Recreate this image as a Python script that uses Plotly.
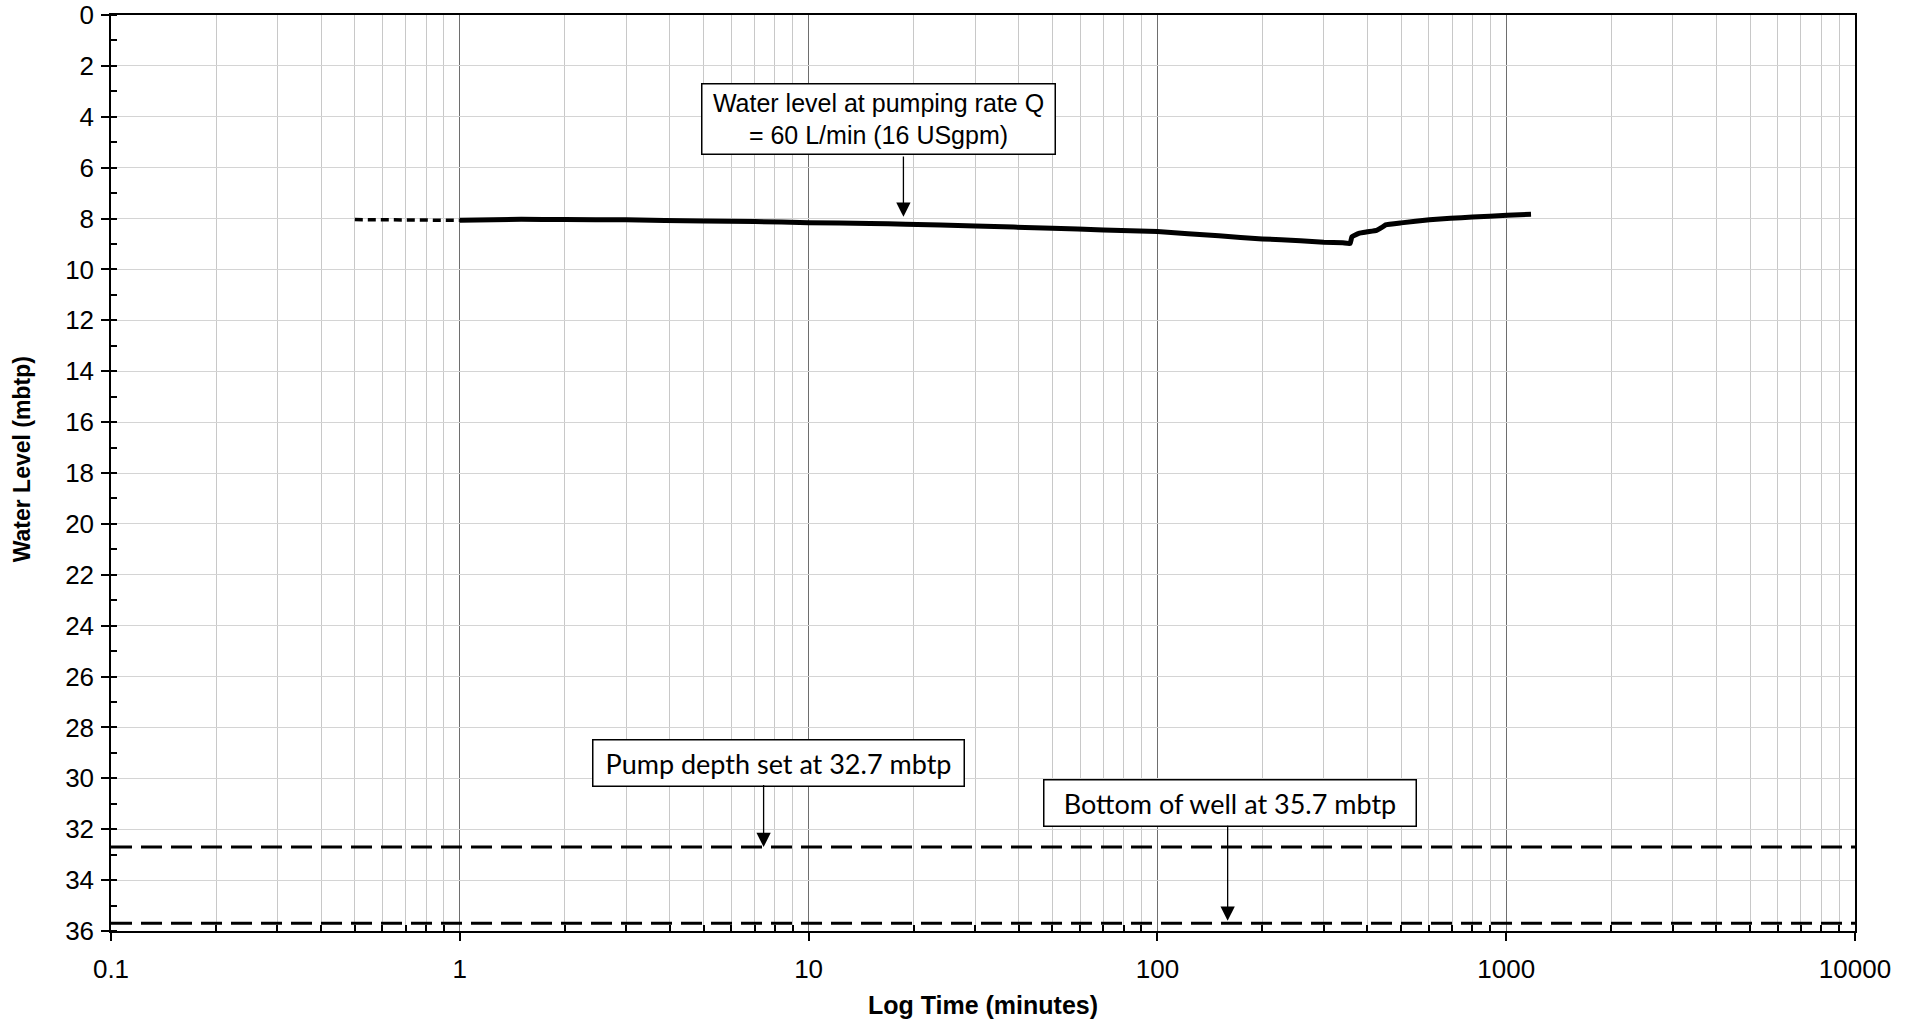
import numpy as np
import plotly.graph_objects as go

# ---- data ----
early_time = [0.5, 1.0]
early_level = [8.04, 8.07]

time_min = [1.0, 1.5, 2.0, 3.0, 5.0, 7.0, 10, 15, 19, 30, 50, 70, 100, 150, 200, 257, 300,
            340, 357, 361, 378, 400, 425, 440, 451, 500, 603, 692, 800, 1006, 1178]
level_m = [8.07, 8.03, 8.04, 8.05, 8.10, 8.12, 8.16, 8.19, 8.22, 8.29, 8.38, 8.45, 8.51, 8.68,
           8.80, 8.87, 8.93, 8.95, 8.98, 8.72, 8.58, 8.52, 8.46, 8.35, 8.25, 8.17, 8.05, 7.99,
           7.94, 7.87, 7.83]

pump_depth = 32.7
well_bottom = 35.7
x_span = [0.1, 10000]

x_tick_vals = [0.1, 1, 10, 100, 1000, 10000]
x_tick_text = ["0.1", "1", "10", "100", "1000", "10000"]
x_minor_vals = [m * d for d in [0.1, 1, 10, 100, 1000] for m in range(2, 10)]
y_tick_vals = list(range(0, 37, 2))

# annotation anchors (time in minutes, level in mbtp)
ann_wl = dict(box_t=15.9, box_l=4.09, tip_t=18.7, tip_l=7.93, tail_l=5.5,
              text="Water level at pumping rate Q<br>= 60 L/min (16 USgpm)")
ann_pump = dict(box_t=8.18, box_l=29.38, tip_t=7.43, tip_l=32.7, tail_l=30.2,
                text="Pump depth set at 32.7 mbtp")
ann_well = dict(box_t=161.7, box_l=30.96, tip_t=159.0, tip_l=35.6, tail_l=31.8,
                text="Bottom of well at 35.7 mbtp")

fig = go.Figure()
fig.add_trace(go.Scatter(x=early_time, y=early_level, mode="lines",
                         line=dict(color="black", width=3.5, dash="8px,5px"),
                         showlegend=False, hoverinfo="skip"))
fig.add_trace(go.Scatter(x=time_min, y=level_m, mode="lines",
                         line=dict(color="black", width=5, shape="spline", smoothing=0.3),
                         showlegend=False))
for lv in [pump_depth, well_bottom]:
    fig.add_trace(go.Scatter(x=x_span, y=[lv, lv], mode="lines",
                             line=dict(color="black", width=3, dash="21px,9px"),
                             showlegend=False, hoverinfo="skip"))

annotations = []
for a, fnt, w, h in [(ann_wl, dict(family="Arial, Liberation Sans", size=25, color="black"), 348, 65),
                     (ann_pump, dict(family="Lato", size=27, color="black"), 366, 41),
                     (ann_well, dict(family="Lato", size=27, color="black"), 367, 41)]:
    annotations.append(dict(
        x=np.log10(a["box_t"]), y=a["box_l"], xref="x", yref="y",
        text=a["text"], showarrow=False, font=fnt, align="center",
        bgcolor="white", bordercolor="black", borderwidth=1.5, borderpad=2,
        width=w, height=h, xanchor="center", yanchor="middle"))
    annotations.append(dict(
        x=np.log10(a["tip_t"]), y=a["tip_l"], xref="x", yref="y",
        ax=np.log10(a["tip_t"]), ay=a["tail_l"], axref="x", ayref="y",
        text="", showarrow=True, arrowhead=2, arrowsize=2.2, arrowwidth=1.3,
        arrowcolor="black"))

# y-axis title (placed as a rotated annotation to match its offset)
annotations.append(dict(
    text="<b>Water Level (mbtp)</b>", textangle=-90, showarrow=False,
    xref="paper", yref="paper", x=-0.051, y=0.515, xanchor="center", yanchor="middle",
    font=dict(family="Arial, Liberation Sans", size=23, color="black")))

fig.update_layout(
    width=1912, height=1019,
    margin=dict(l=111, r=57, t=15, b=88, autoexpand=False),
    paper_bgcolor="white", plot_bgcolor="white",
    font=dict(family="Arial, Liberation Sans", color="black", size=26),
    annotations=annotations,
    showlegend=False,
)

fig.update_xaxes(
    type="log", range=[np.log10(x_span[0]), np.log10(x_span[1])],
    tickvals=x_tick_vals, ticktext=x_tick_text,
    ticks="outside", ticklen=8, tickwidth=1.5, tickcolor="black",
    showline=True, linecolor="black", linewidth=1.5, mirror=True,
    showgrid=True, gridcolor="#6e6e6e", gridwidth=1,
    minor=dict(tickvals=x_minor_vals, ticks="inside", ticklen=6, tickcolor="black",
               showgrid=True, gridcolor="#c8c8c8", gridwidth=1),
    tickfont=dict(size=26, color="black"),
    ticklabelstandoff=6, ticklabeloverflow="allow",
    title=dict(text="<b>Log Time (minutes)</b>", font=dict(size=25, color="black"), standoff=26),
    zeroline=False, automargin=False,
)
fig.update_yaxes(
    range=[36, 0], tickvals=y_tick_vals,
    ticks="outside", ticklen=8, tickwidth=1.5, tickcolor="black",
    showline=True, linecolor="black", linewidth=1.5, mirror=True,
    showgrid=True, gridcolor="#d4d4d4", gridwidth=1,
    minor=dict(dtick=1, ticks="inside", ticklen=6, tickcolor="black", showgrid=False),
    tickfont=dict(size=26, color="black"),
    ticklabelstandoff=2, ticklabeloverflow="allow",
    zeroline=False, automargin=False,
)

# remove the default 8px page margin so the figure fills the window exactly
fig.write_html("out.html", config={"displayModeBar": False},
               post_script="document.body.style.margin='0';document.body.style.overflow='hidden';")
